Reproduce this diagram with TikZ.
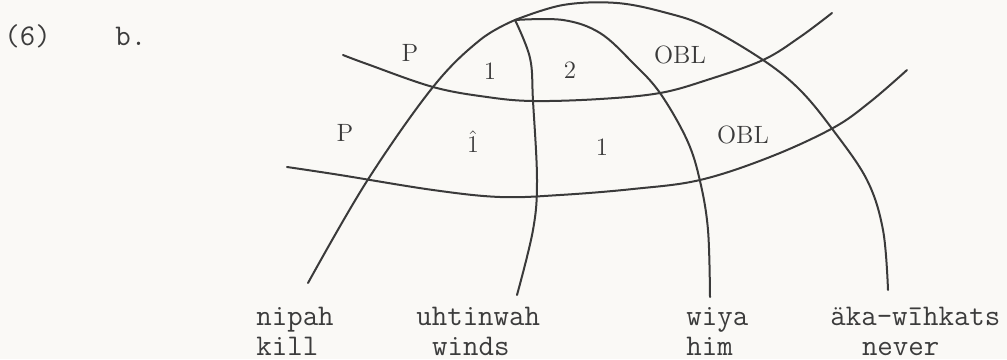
\documentclass[tikz,border=0pt]{standalone}
\usepackage{fontspec}
\usetikzlibrary{positioning}
\definecolor{paper}{RGB}{250,249,246}
\definecolor{ink}{RGB}{58,58,58}
\definecolor{typed}{RGB}{60,60,60}

\begin{document}
\begin{tikzpicture}[
  x=0.5pt, y=-0.5pt,
  arc/.style={draw=ink, line width=1pt, line cap=round, line join=round},
  rel/.style={text=ink, inner sep=0pt, font=\fontsize{12.5}{14}\selectfont},
  word/.style={text=typed, inner sep=0pt, anchor=base west,
    font=\ttfamily\fontsize{15}{15}\selectfont}
]

% paper
\fill[paper] (0,0) rectangle (1007,359);
\useasboundingbox (0,0) rectangle (1007,359);

% example number
\node[word] (num) at (4,45) {(6)};
\node[word] (sub) at (115,45) {b.};

% words and glosses
\node[word] (nipah) at (256,325) {nipah};
\node[word] (kill) at ([yshift=-15pt]nipah.base west) {kill};
\node[word] (uhtinwah) at (416,325) {uhtinwah};
\node[word] (winds) at ([yshift=-15pt, xshift=7.9pt]uhtinwah.base west) {winds};
\node[word] (wiya) at (686,325) {wiya};
\node[word] (him) at ([yshift=-15pt]wiya.base west) {him};
\node[word] (aka) at (830,325) {äka-wīhkats};
\node[word] (never) at ([yshift=-15pt, xshift=15.8pt]aka.base west) {never};

% arc ends
\coordinate (root) at (515,20);
\coordinate (nipah-top) at (308,283);
\coordinate (uhtinwah-top) at (517,295);
\coordinate (wiya-top) at (710,297);
\coordinate (aka-top) at (888,290);

% arcs from the clause node down to the words
\draw[arc] plot[smooth, tension=0.6] coordinates
  {(root) (480,40) (433,87) (367,181) (nipah-top)};
\draw[arc] plot[smooth, tension=0.6] coordinates
  {(root) (530,58) (533,101) (537,180) (533,230) (uhtinwah-top)};
\draw[arc] plot[smooth, tension=0.6] coordinates
  {(root) (563,20) (600,33) (633,63) (660,93) (687,140) (700,181) (708,230) (wiya-top)};
\draw[arc] plot[smooth, tension=0.6] coordinates
  {(root) (563,5) (617,3) (667,13) (707,27) (763,60) (800,90) (833,130) (867,180) (883,230) (aka-top)};

% strata lines
\coordinate (s1-l) at (343,55);
\coordinate (s1-r) at (832,13);
\coordinate (s2-l) at (287,167);
\coordinate (s2-r) at (907,70);
\draw[arc] plot[smooth, tension=0.6] coordinates
  {(s1-l) (367,64) (433,87) (487,97) (533,101) (600,99) (660,93) (707,80) (763,60) (800,37) (s1-r)};
\draw[arc] plot[smooth, tension=0.6] coordinates
  {(s2-l) (340,175) (433,190) (500,197) (560,195) (633,189) (700,180) (770,157) (833,128) (870,102) (s2-r)};

% relations, first stratum
\node[rel] (p-a) at (410,53) {P};
\node[rel] (one-a) at (490,71) {1};
\node[rel] (two-a) at (570,70) {2};
\node[rel] (obl-a) at (680,55) {OBL};

% relations, second stratum
\node[rel] (p-b) at (345,133) {P};
\node[rel] (one-hat) at (473,142) {\(\hat{1}\)};
\node[rel] (one-b) at (602,147) {1};
\node[rel] (obl-b) at (743,135) {OBL};

\end{tikzpicture}
\end{document}
